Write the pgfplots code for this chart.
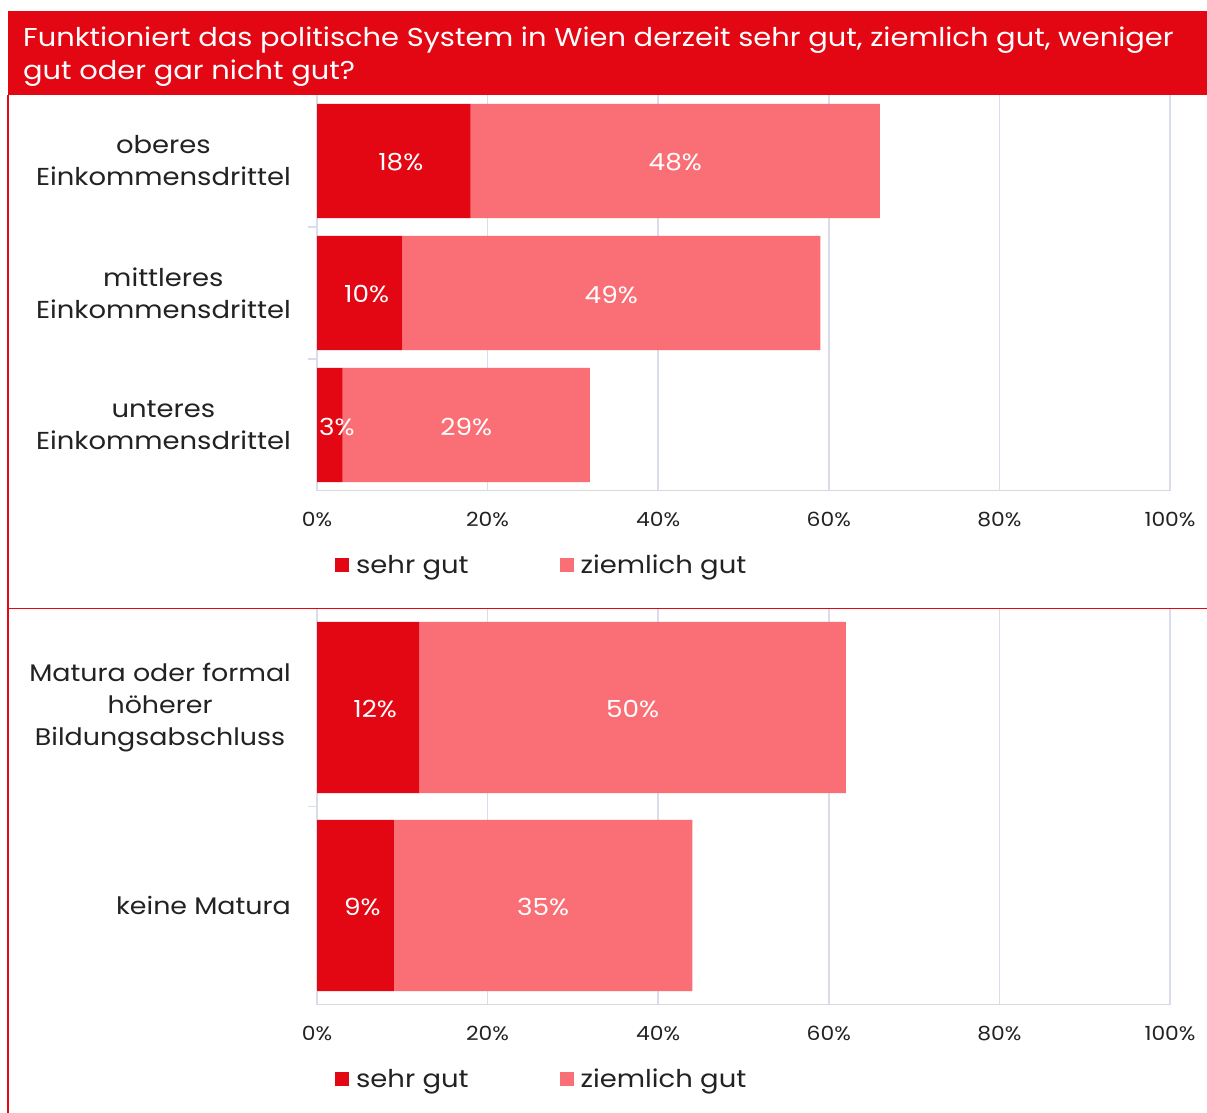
\documentclass[border=0pt]{standalone}
\usepackage{fontspec}
\setmainfont{Poppins}[FakeStretch=1.12]
\usepackage{pgfplots}
\usepackage{pgfplotstable}
\pgfplotsset{compat=1.18}
\definecolor{dred}{HTML}{E30613}
\definecolor{lred}{HTML}{FA6E75}
\definecolor{gridc}{HTML}{D9DCEB}
\definecolor{axc}{HTML}{D9D9D9}
\definecolor{txt}{HTML}{222222}

\pgfplotstableread{
y a b
0 18 48
1 10 49
2 3 29
}\tabA
\pgfplotstableread{
y a b
0 12 50
1 9 35
}\tabB

\pgfplotsset{
  sqleg/.style={legend image code/.code={\fill[##1] (0pt,-7pt) rectangle (14pt,7pt);}},
  panel/.style={
    xbar stacked,
    scale only axis, width=853pt, height=396pt,
    xmin=0, xmax=100,
    xtick={0,20,40,60,80,100},
    xticklabels={0\%,20\%,40\%,60\%,80\%,100\%},
    y dir=reverse,
    axis line style={draw=none},
    xmajorgrids, grid style={gridc, line width=1.5pt},
    major tick length=0pt,
    tick pos=left,
    tick style={draw=none},
    extra y tick style={major tick length=9pt, tick align=outside, tick style={draw=gridc, line width=1.5pt}, grid=none},
    bar width=0.864,
    /pgf/number format/assume math mode=true,
    point meta=explicit,
    nodes near coords={\pgfmathprintnumber{\pgfplotspointmeta}\%},
    every node near coord/.append style={text=white, font=\fontsize{23.5}{28}\selectfont, anchor=center, yshift=-1.5pt},
    xticklabel style={anchor=base, yshift=-36pt, font=\fontsize{19.5}{24}\selectfont, text=txt},
    yticklabel style={align=center, font=\fontsize{24.5}{32}\selectfont, text=txt, inner sep=0pt, xshift=-26pt},
    legend cell align=left,
    legend style={draw=none, fill=none, legend columns=2, font=\fontsize{24.5}{30}\selectfont, text=txt, inner sep=0pt,
      /tikz/every odd column/.append style={column sep=5pt},
      /tikz/every even column/.append style={column sep=89pt}},
  }
}

\begin{document}
\begin{tikzpicture}
\useasboundingbox (0pt,0pt) rectangle (1207pt,1113pt);
\fill[white] (0pt,0pt) rectangle (1207pt,1113pt);

\begin{axis}[panel, at={(317pt,622pt)}, anchor=south west,
  ymin=-0.5, ymax=2.5, ytick={0,1,2},
  yticklabels={{oberes\\Einkommensdrittel},{mittleres\\Einkommensdrittel},{unteres\\Einkommensdrittel}},
  extra y ticks={0.5,1.5}, extra y tick labels={},
  legend style={at={(0.021,-0.187)}, anchor=west}]
\addplot[fill=dred, draw=none, sqleg,
  every node near coord/.append style={xshift=7pt}]
  table[x=a, y=y, meta=a] {\tabA};
\addplot[fill=lred, draw=none, sqleg]
  table[x=b, y=y, meta=b] {\tabA};
\legend{sehr gut, ziemlich gut}
\draw[axc, line width=1.5pt] ([xshift=-9pt]axis description cs:0,0) -- (axis description cs:1,0);
\end{axis}

\begin{axis}[panel, at={(317pt,108.5pt)}, anchor=south west,
  ymin=-0.5, ymax=1.5, ytick={0,1},
  yticklabels={{Matura oder formal\\höherer\\Bildungsabschluss},{keine Matura}},
  yticklabel style={font=\fontsize{24}{32}\selectfont},
  extra y ticks={0.5}, extra y tick labels={},
  legend style={at={(0.021,-0.188)}, anchor=west}]
\addplot[fill=dred, draw=none, sqleg,
  every node near coord/.append style={xshift=7pt}]
  table[x=a, y=y, meta=a] {\tabB};
\addplot[fill=lred, draw=none, sqleg]
  table[x=b, y=y, meta=b] {\tabB};
\legend{sehr gut, ziemlich gut}
\draw[axc, line width=1.5pt] ([xshift=-9pt]axis description cs:0,0) -- (axis description cs:1,0);
\end{axis}

% frame and title
\fill[dred] (7.5pt,1018pt) rectangle (1207pt,1102pt);
\draw[dred, line width=1.5pt] (8pt,0pt) -- (8pt,1018pt);
\draw[dred, line width=1.2pt] (8pt,504.5pt) -- (1207pt,504.5pt);
\node[anchor=base west, inner sep=0pt, text=white, font=\fontsize{25.8}{30}\selectfont] at (23pt,1066pt)
  {Funktioniert das politische System in Wien derzeit sehr gut, ziemlich gut, weniger};
\node[anchor=base west, inner sep=0pt, text=white, font=\fontsize{25.8}{30}\selectfont] at (23pt,1033pt)
  {gut oder gar nicht gut?};
\end{tikzpicture}
\end{document}
